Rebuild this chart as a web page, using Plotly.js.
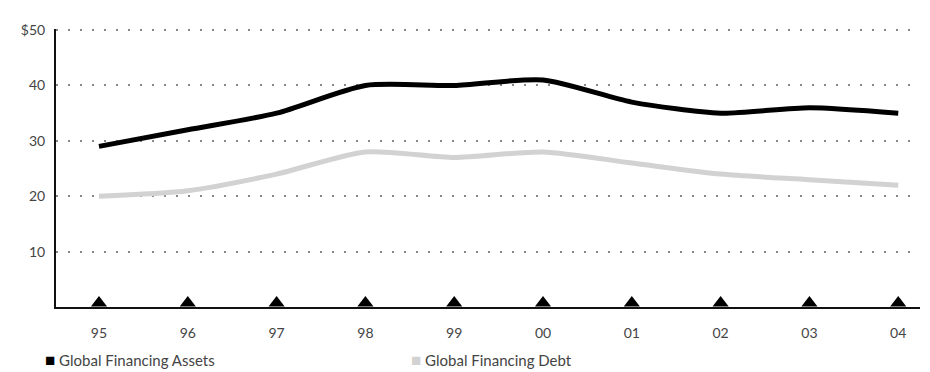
<!DOCTYPE html>
<html>
<head>
<meta charset="utf-8">
<script src="https://cdn.plot.ly/plotly-3.0.1.min.js"></script>
<style>html,body{margin:0;padding:0;background:#fff;}#chart{width:930px;height:372px;}</style>
</head>
<body>
<div id="chart"></div>
<script>
var years = ["95","96","97","98","99","00","01","02","03","04"];
var assets = [29, 32, 35, 40, 40, 41, 37, 35, 36, 35];
var debt = [20, 21, 24, 28, 27, 28, 26, 24, 23, 22];
var yTickVals = [10, 20, 30, 40, 50];
var yTickText = ["10", "20", "30", "40", "$50"];
var seriesNames = ["Global Financing Assets", "Global Financing Debt"];

var idx = years.map(function(_, i){ return i; });
var FONT = "Lato, 'Open Sans', sans-serif";

var traces = [
  {x: idx, y: debt, mode: "lines", line: {color: "#d2d2d2", width: 5, shape: "spline", smoothing: 0.7}, name: seriesNames[1], hoverinfo: "skip"},
  {x: idx, y: assets, mode: "lines", line: {color: "#000", width: 5, shape: "spline", smoothing: 0.7}, name: seriesNames[0], hoverinfo: "skip"},
  {x: idx, y: idx.map(function(){ return 0.7; }), mode: "markers", marker: {symbol: "triangle-up", size: 14, color: "#000"}, cliponaxis: false, hoverinfo: "skip"}
];

var layout = {
  width: 930, height: 372,
  margin: {l: 56, r: 10, t: 29, b: 65},
  paper_bgcolor: "#fff", plot_bgcolor: "#fff",
  showlegend: false,
  font: {family: FONT, color: "#444", size: 14},
  xaxis: {
    range: [-0.484, 9.245],
    tickvals: idx, ticktext: years,
    showgrid: false, zeroline: false,
    showline: true, linecolor: "#111", linewidth: 2,
    ticks: "outside", ticklen: 12, tickcolor: "rgba(0,0,0,0)",
    tickfont: {family: FONT, size: 14, color: "#444"}
  },
  yaxis: {
    range: [0, 50.2],
    tickvals: yTickVals, ticktext: yTickText,
    showgrid: true, gridcolor: "#888", gridwidth: 2, griddash: "2px,10px",
    zeroline: false,
    showline: true, linecolor: "#111", linewidth: 2,
    ticks: "outside", ticklen: 6, tickcolor: "rgba(0,0,0,0)",
    tickfont: {family: FONT, size: 14, color: "#444"}
  },
  annotations: [
    {xref: "paper", yref: "paper", x: -0.015, y: -0.19, xanchor: "left", yanchor: "middle", showarrow: false,
     text: "<span style='color:#000;font-size:17px'>■</span> " + seriesNames[0], font: {family: FONT, size: 15, color: "#444"}},
    {xref: "paper", yref: "paper", x: 0.408, y: -0.19, xanchor: "left", yanchor: "middle", showarrow: false,
     text: "<span style='color:#d2d2d2;font-size:17px'>■</span> " + seriesNames[1], font: {family: FONT, size: 15, color: "#444"}}
  ]
};

Plotly.newPlot("chart", traces, layout, {displayModeBar: false, staticPlot: true});
</script>
</body>
</html>
